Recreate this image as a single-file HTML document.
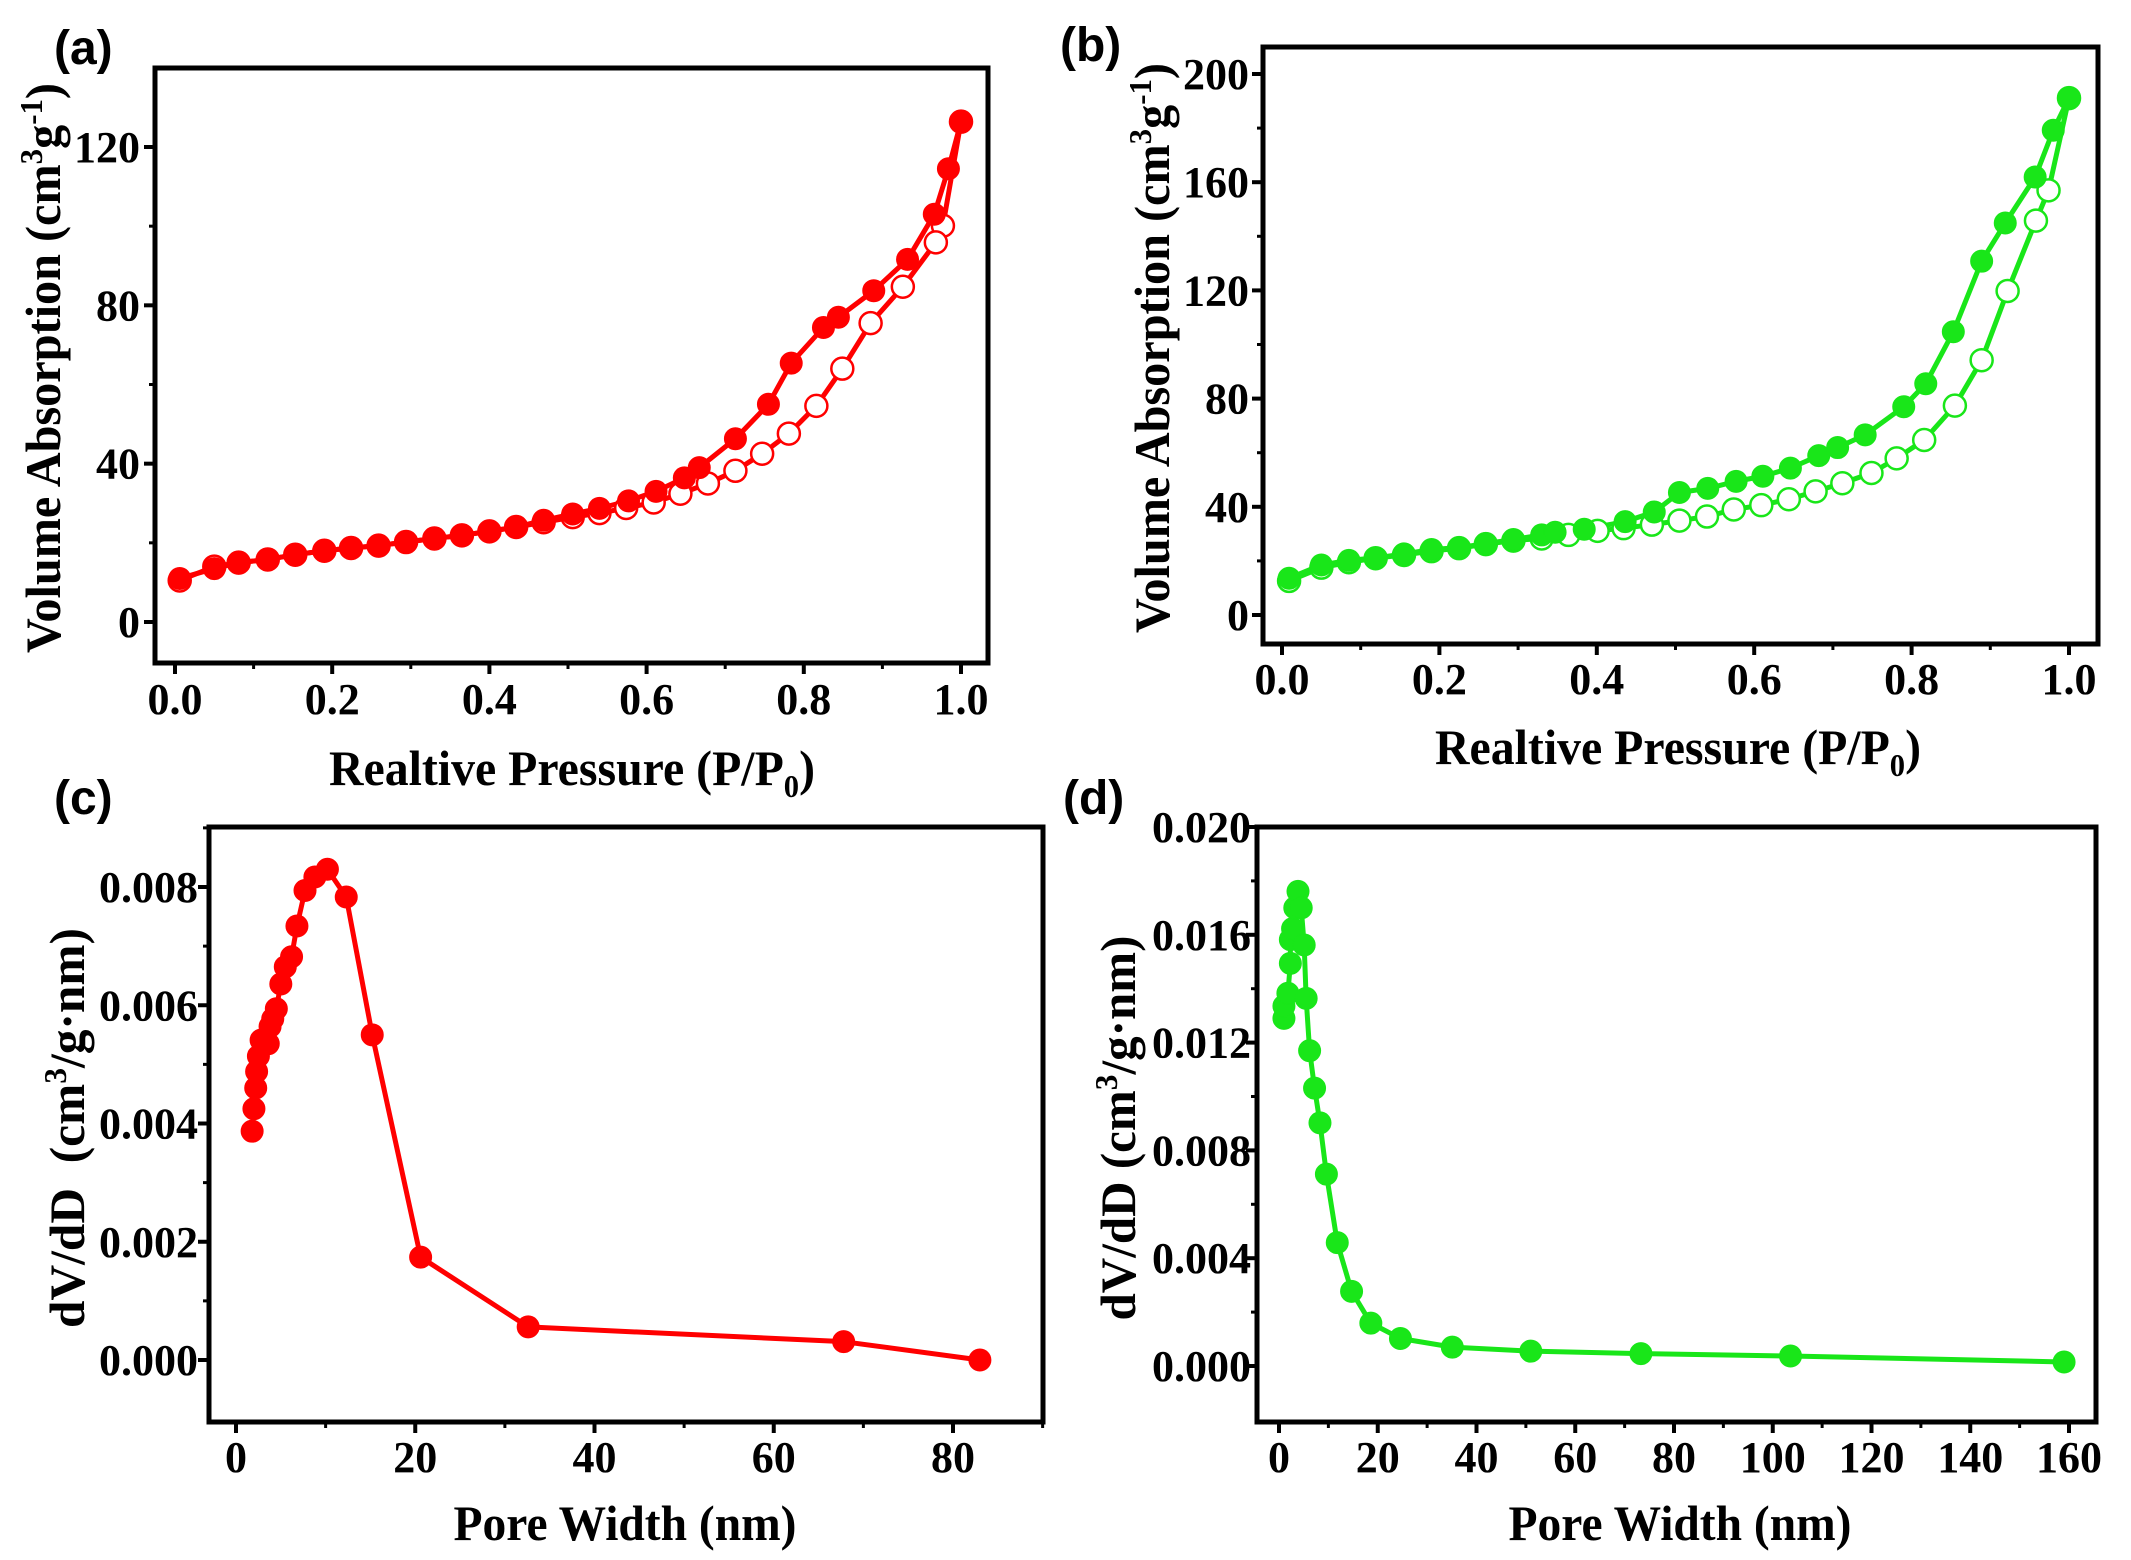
<!DOCTYPE html>
<html><head><meta charset="utf-8"><style>
html,body{margin:0;padding:0;background:#fff;}
svg{display:block;}
text{font-family:"Liberation Serif",serif;font-weight:bold;fill:#000;}
.pl{font-family:"Liberation Sans",sans-serif;font-size:48px;}
</style></head><body>
<svg id="fig" width="2131" height="1560" viewBox="0 0 2131 1560" xmlns="http://www.w3.org/2000/svg">
<text class="pl" x="54" y="64">(a)</text>
<text class="pl" x="1060" y="61">(b)</text>
<text class="pl" x="54" y="814">(c)</text>
<text class="pl" x="1063" y="814">(d)</text>
</svg>
<script>
// Panel (a) data
const aAdsX=[0.006,0.05,0.081,0.118,0.153,0.19,0.224,0.259,0.294,0.33,0.365,0.4,0.434,0.469,0.506,0.54,0.577,0.612,0.648,0.667,0.713,0.755,0.784,0.825,0.844,0.889,0.932,0.966,0.984,1.0];
const aAdsY=[11,13.5,15,15.8,17,18,18.7,19.3,20.2,21.1,21.9,22.9,24,25.7,27.3,28.7,30.6,33,36.4,39,46.3,55,65.4,74.4,77,83.7,91.6,103,114.5,126.4];
const aDesX=[1.0,0.977,0.968,0.926,0.885,0.849,0.816,0.781,0.747,0.713,0.678,0.643,0.609,0.574,0.54,0.506,0.469,0.434,0.4,0.365,0.33,0.294,0.259,0.224,0.19,0.153,0.118,0.081,0.05,0.006];
const aDesY=[126.4,100.1,95.9,84.7,75.5,64,54.6,47.6,42.5,38.2,35,32.4,30.2,28.8,27.5,26.5,25.2,24,22.9,21.9,21.1,20.2,19.3,18.7,18,17,15.8,15,14,10.5];
const aXTicks=["0.0","0.2","0.4","0.6","0.8","1.0"];
const aYTicks=["0","40","80","120"];
// Panel (b) data
const bAdsX=[0.009,0.05,0.085,0.119,0.155,0.19,0.225,0.259,0.294,0.33,0.347,0.384,0.436,0.473,0.505,0.541,0.577,0.611,0.646,0.682,0.706,0.741,0.79,0.818,0.853,0.889,0.919,0.957,0.98,1.0];
const bAdsY=[13.6,18.5,20.2,21.1,22.6,24.2,24.9,26.4,27.9,29.6,30.6,31.7,34.5,38.1,45.3,46.8,49.4,51.3,54.3,58.9,61.9,66.6,77,85.5,104.7,130.8,144.9,161.9,179.2,191.1];
const bDesX=[1.0,0.974,0.958,0.922,0.889,0.855,0.816,0.781,0.749,0.712,0.678,0.644,0.609,0.574,0.54,0.505,0.47,0.434,0.401,0.364,0.33,0.294,0.259,0.225,0.19,0.155,0.119,0.085,0.05,0.009];
const bDesY=[191.1,157,145.8,119.8,94.2,77.4,64.7,57.9,52.5,48.7,45.7,42.8,40.6,39,36.4,34.9,33.4,32.1,31.1,29.6,28.3,27.5,26.2,24.7,23.6,22.2,21,19.5,17.5,12.6];
const bXTicks=["0.0","0.2","0.4","0.6","0.8","1.0"];
const bYTicks=["0","40","80","120","160","200"];
// Panel (c) data
const cX=[1.8,2.0,2.2,2.3,2.5,2.8,3.6,3.8,4.1,4.5,5.0,5.5,6.2,6.8,7.7,8.8,10.2,12.3,15.2,20.6,32.6,67.8,83];
const cY=[0.00387,0.00425,0.0046,0.00488,0.00514,0.00541,0.00535,0.00564,0.00577,0.00594,0.00636,0.00665,0.00682,0.00734,0.00794,0.00817,0.0083,0.00783,0.0055,0.00174,0.00056,0.00031,0.0];
const cXTicks=["0","20","40","60","80"];
const cYTicks=["0.000","0.002","0.004","0.006","0.008"];
// Panel (d) data
const dX=[1.0,1.0,1.8,2.3,2.3,2.75,3.2,3.85,4.5,5.1,5.5,6.2,7.2,8.3,9.6,11.8,14.7,18.6,24.6,35.1,51,73.3,103.6,159];
const dY=[0.0129,0.01336,0.01383,0.01494,0.01582,0.01623,0.017,0.01761,0.017,0.01562,0.01364,0.0117,0.01031,0.00902,0.00712,0.00458,0.00277,0.00159,0.00102,0.0007,0.00055,0.00046,0.00037,0.00015];
const dXTicks=["0","20","40","60","80","100","120","140","160"];
const dYTicks=["0.000","0.004","0.008","0.012","0.016","0.020"];

const NS="http://www.w3.org/2000/svg";
const svg=document.getElementById('fig');
function mk(tag,attrs,parent){const e=document.createElementNS(NS,tag);for(const k in attrs)e.setAttribute(k,attrs[k]);(parent||svg).appendChild(e);return e;}
function lin(d0,d1,p0,p1){return v=>p0+(v-d0)*(p1-p0)/(d1-d0);}

function panel(cfg){
  const g=mk('g',{});
  
  
  const sx=lin(cfg.xd[0],cfg.xd[1],cfg.xp[0],cfg.xp[1]);
  const sy=lin(cfg.yd[0],cfg.yd[1],cfg.yp[0],cfg.yp[1]);
  const F=cfg.frame;
  const xStep=parseFloat(cfg.xt[1])-parseFloat(cfg.xt[0]);
  for(let i=0;i<cfg.xt.length;i++){
    const v=parseFloat(cfg.xt[i]);const x=sx(v);
    const t=mk('line',{x1:x,x2:x,y1:F[3],y2:F[3]+11,stroke:'#000','stroke-width':4},g);
    
    
    const lb=mk('text',{x:x,y:cfg.xly,'text-anchor':'middle','font-size':44},g);
    
    
    lb.textContent=cfg.xt[i];
    const mx=sx(v+xStep/2);
    if(mx<F[2]){mk('line',{x1:mx,x2:mx,y1:F[3],y2:F[3]+6,stroke:'#000','stroke-width':3},g);}
  }
  const yStep=parseFloat(cfg.yt[1])-parseFloat(cfg.yt[0]);
  for(let i=0;i<cfg.yt.length;i++){
    const v=parseFloat(cfg.yt[i]);const y=sy(v);
    const t=mk('line',{x1:F[0]-11,x2:F[0],y1:y,y2:y,stroke:'#000','stroke-width':4},g);
    
    
    const lb=mk('text',{x:cfg.ylx,y:y+15,'text-anchor':'end','font-size':44},g);
    
    
    lb.textContent=cfg.yt[i];
    const my=sy(v+yStep/2);
    if(my>F[1]){mk('line',{x1:F[0]-6,x2:F[0],y1:my,y2:my,stroke:'#000','stroke-width':3},g);}
  }
  cfg.series.forEach(s=>{
    const pts=s.x.map((v,i)=>sx(v)+','+sy(s.y[i])).join(' ');
    const pl=mk('polyline',{points:pts,fill:'none',stroke:cfg.color,'stroke-width':5,'stroke-linejoin':'round'},g);
    
    
  });
  cfg.series.forEach(s=>{
    s.x.forEach((v,i)=>{
      const c=mk('circle',{cx:sx(v),cy:sy(s.y[i]),r:cfg.r,fill:s.open?'#fff':cfg.color,stroke:cfg.color,'stroke-width':s.open?2.5:1},g);
      
      
    });
  });
  const fr=mk('rect',{x:F[0],y:F[1],width:F[2]-F[0],height:F[3]-F[1],fill:'none',stroke:'#000','stroke-width':5},g);
  
  
  const xt=mk('text',{x:cfg.xtitle[0],y:cfg.xtitle[1],'text-anchor':'middle','font-size':50,textLength:cfg.xtitle[3],lengthAdjust:'spacingAndGlyphs'},g);
  
  
  xt.innerHTML=cfg.xtitle[2];
  const yt=mk('text',{x:0,y:0,'text-anchor':'middle','font-size':50,textLength:cfg.ytitle[3],lengthAdjust:'spacingAndGlyphs',transform:`translate(${cfg.ytitle[0]},${cfg.ytitle[1]}) rotate(-90)`},g);
  
  
  yt.innerHTML=cfg.ytitle[2];
}
const pp='Realtive Pressure (P/P<tspan font-size="32" dy="12">0</tspan><tspan dy="-12">)</tspan>';
const va='Volume Absorption (cm<tspan font-size="32" dy="-18">3</tspan><tspan dy="18">g</tspan><tspan font-size="32" dy="-18">-1</tspan><tspan dy="18">)</tspan>';
panel({name:'panel-a-isotherm',xd:[0,1],xp:[175,961],yd:[0,120],yp:[622,147],frame:[155,68,988,663],
  xt:aXTicks,yt:aYTicks,xly:714,ylx:140,color:'#ff0000',r:11,
  series:[{name:'desorption-a',x:aDesX,y:aDesY,open:true},{name:'adsorption-a',x:aAdsX,y:aAdsY,open:false}],
  xtitle:[572,785,pp,486],ytitle:[60,368,va,570]});
panel({name:'panel-b-isotherm',xd:[0,1],xp:[1282,2069],yd:[0,200],yp:[615,74],frame:[1263,47,2098,644],
  xt:bXTicks,yt:bYTicks,xly:694,ylx:1249,color:'#19e619',r:11,
  series:[{name:'desorption-b',x:bDesX,y:bDesY,open:true},{name:'adsorption-b',x:bAdsX,y:bAdsY,open:false}],
  xtitle:[1678,764,pp,486],ytitle:[1169,348,va,570]});
panel({name:'panel-c-pore-size',xd:[0,80],xp:[236,953],yd:[0,0.008],yp:[1360,887],frame:[209,827,1043,1422],
  xt:cXTicks,yt:cYTicks,xly:1472,ylx:198,color:'#ff0000',r:11,
  series:[{name:'pore-distribution-c',x:cX,y:cY,open:false}],
  xtitle:[625,1540,'Pore Width (nm)',343],ytitle:[84,1128,'dV/dD&#160;&#160;(cm<tspan font-size="32" dy="-18">3</tspan><tspan dy="18">/g·nm)</tspan>',400]});
panel({name:'panel-d-pore-size',xd:[0,160],xp:[1279,2069],yd:[0,0.02],yp:[1366,827],frame:[1257,827,2096,1422],
  xt:dXTicks,yt:dYTicks,xly:1472,ylx:1251,color:'#19e619',r:11,
  series:[{name:'pore-distribution-d',x:dX,y:dY,open:false}],
  xtitle:[1680,1540,'Pore Width (nm)',343],ytitle:[1135,1128,'dV/dD (cm<tspan font-size="32" dy="-18">3</tspan><tspan dy="18">/g·nm)</tspan>',385]});
</script>
</body></html>
